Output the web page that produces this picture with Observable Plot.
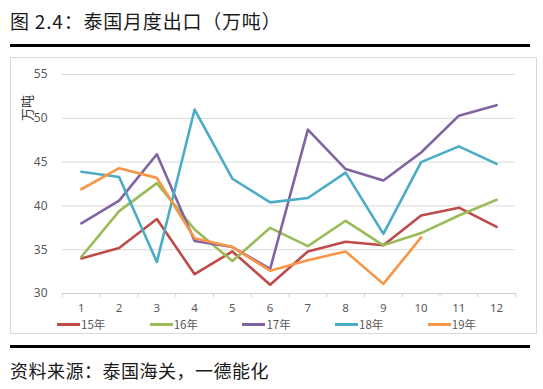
<!DOCTYPE html>
<html>
<head>
<meta charset="utf-8">
<script src="https://cdn.jsdelivr.net/npm/d3@7"></script>
<script src="https://cdn.jsdelivr.net/npm/@observablehq/plot@0.6"></script>
<style>
  html, body { margin: 0; padding: 0; background: #fff; }
  body { width: 543px; height: 389px; position: relative; overflow: hidden;
         font-family: "Noto Sans CJK SC", "Noto Sans", sans-serif; }
  #title { position: absolute; left: 10px; top: 9px; font-size: 19px; letter-spacing: 0.8px; line-height: 24px; color: #1a1a1a; white-space: nowrap; }
  .rule { position: absolute; left: 10px; width: 520px; height: 3px; background: #000; }
  #box { position: absolute; left: 10px; top: 57px; width: 525px; height: 275px; border: 1px solid #d9d9d9; }
  #chart { position: absolute; left: 0; top: 0; }
  #ylabel { position: absolute; left: 26px; top: 108px; transform: translate(-50%, -50%) rotate(-90deg); font-size: 13px; line-height: 13px; color: #333; white-space: nowrap; }
  .leg { position: absolute; top: 260.5px; display: flex; align-items: center; font-size: 11.5px; color: #595959; line-height: 11px; }
  .sw { display: inline-block; width: 23px; height: 3px; margin-right: 1px; }
  #source { position: absolute; left: 10px; top: 358px; font-size: 18px; letter-spacing: 0.5px; line-height: 24px; color: #1a1a1a; white-space: nowrap; }
</style>
</head>
<body>
<div id="title">图 2.4：泰国月度出口（万吨）</div>
<div class="rule" style="top:44px"></div>
<div id="box"><div id="chart"></div></div>
<div id="ylabel"></div>
<div class="rule" style="top:345px"></div>
<div id="source">资料来源：泰国海关，一德能化</div>
<script>
const months = [1, 2, 3, 4, 5, 6, 7, 8, 9, 10, 11, 12];
const seriesNames = ["15年", "16年", "17年", "18年", "19年"];
const seriesColors = ["#BE4B48", "#9BBB59", "#8064A2", "#4BACC6", "#F79646"];
const y15 = [34.0, 35.2, 38.5, 32.2, 34.8, 31.0, 34.8, 35.9, 35.5, 38.9, 39.8, 37.6];
const y16 = [34.2, 39.4, 42.6, 37.3, 33.7, 37.5, 35.4, 38.3, 35.5, 36.9, 38.9, 40.7];
const y17 = [38.0, 40.6, 45.9, 36.0, 35.3, 32.8, 48.7, 44.2, 42.9, 46.1, 50.3, 51.5];
const y18 = [43.9, 43.3, 33.6, 51.0, 43.1, 40.4, 40.9, 43.8, 36.8, 45.0, 46.8, 44.8];
const y19 = [41.9, 44.3, 43.2, 36.3, 35.3, 32.6, 33.8, 34.8, 31.1, 36.4];
const yTicks = [30, 35, 40, 45, 50, 55];
const yLabel = "万吨";

const seriesValues = [y15, y16, y17, y18, y19];
const data = [];
seriesValues.forEach((vals, si) => {
  vals.forEach((v, i) => data.push({series: seriesNames[si], month: months[i], value: v}));
});
const bounds = [months[0] - 0.5, ...months.map(m => m + 0.5)];

const chart = Plot.plot({
  width: 525,
  height: 258,
  marginTop: 16,
  marginBottom: 23,
  marginLeft: 51,
  marginRight: 21,
  style: {fontFamily: "'Noto Sans', 'Noto Sans CJK SC', sans-serif", fontSize: "11px", color: "#595959", background: "transparent"},
  x: {type: "linear", domain: [bounds[0], bounds[bounds.length - 1]]},
  y: {domain: [30, 55]},
  color: {domain: seriesNames, range: seriesColors},
  marks: [
    Plot.gridY(yTicks, {stroke: "#d9d9d9", strokeOpacity: 1}),
    Plot.ruleY([30], {stroke: "#d0d0d0"}),
    Plot.axisY(yTicks, {tickSize: 0, tickPadding: 15, label: null, fill: "#595959", fontSize: 12}),
    Plot.axisX(bounds, {tickSize: 4, tickFormat: () => "", label: null, stroke: "#d0d0d0"}),
    Plot.axisX(months, {tickSize: 0, tickPadding: 10, label: null, fill: "#595959", fontSize: 11.5}),
    Plot.line(data, {x: "month", y: "value", z: "series", stroke: "series", strokeWidth: 2.6, curve: "linear"})
  ]
});
document.getElementById("chart").appendChild(chart);
document.getElementById("ylabel").textContent = yLabel;

const box = document.getElementById("box");
seriesNames.forEach((name, i) => {
  const d = document.createElement("div");
  d.className = "leg";
  d.style.left = (46 + i * 92.7) + "px";
  d.innerHTML = `<span class="sw" style="background:${seriesColors[i]}"></span><span>${name}</span>`;
  box.appendChild(d);
});
</script>
</body>
</html>
